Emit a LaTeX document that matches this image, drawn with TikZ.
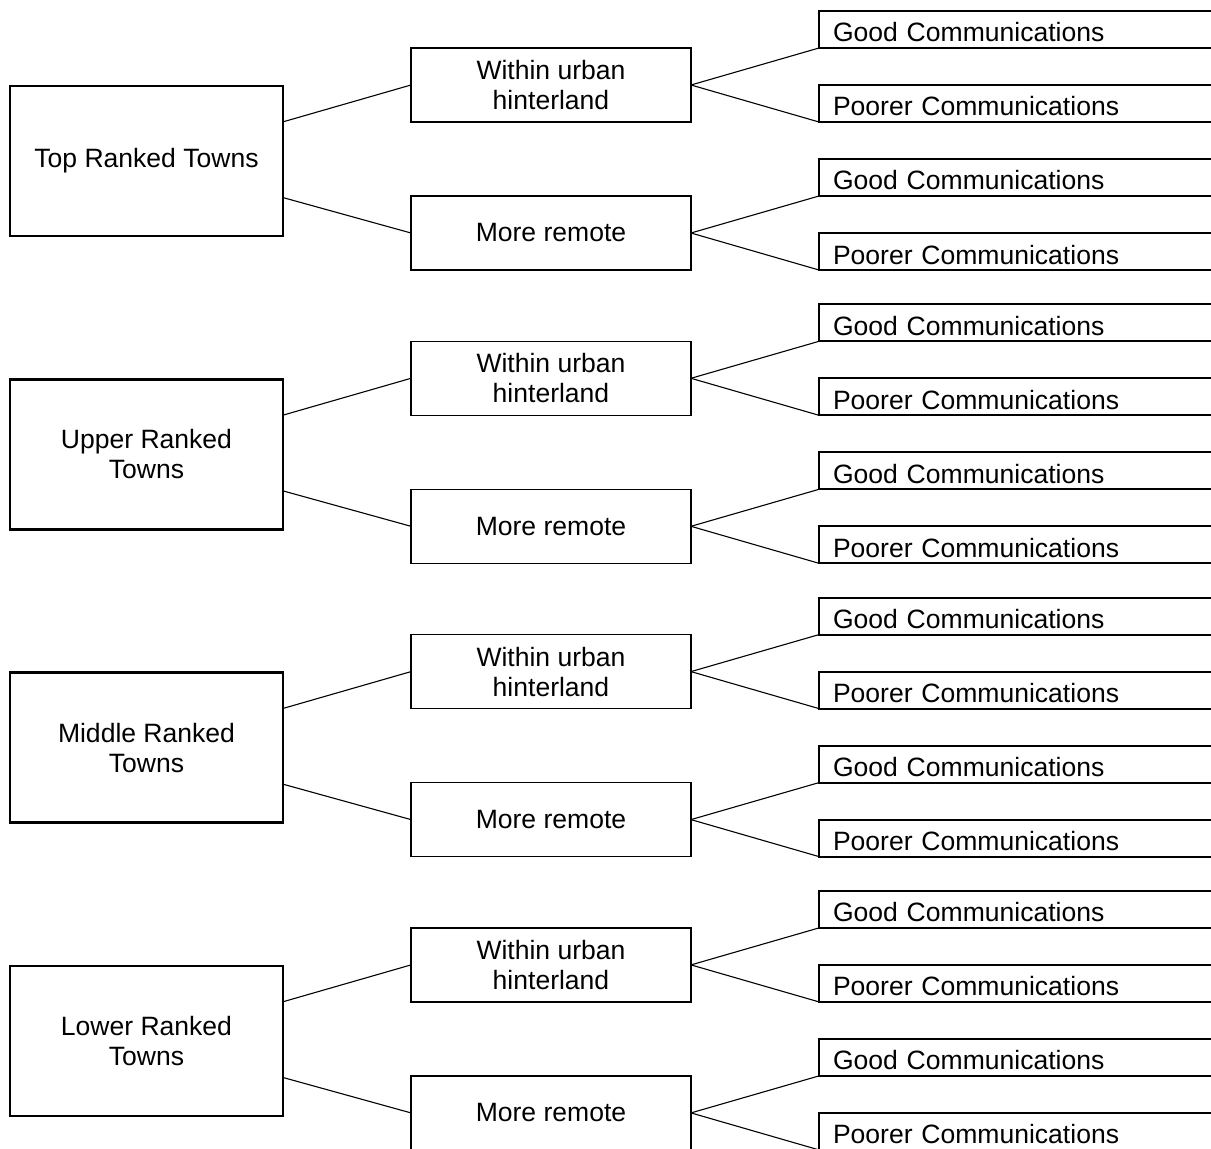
\documentclass[tikz,border=0pt]{standalone}
\usepackage{fontspec}
\setmainfont{Liberation Sans}
\usetikzlibrary{positioning}
\def \px {0.75pt}

\tikzset{
  townbox/.style={draw,line width=2.6*\px,minimum width=273*\px,minimum height=150*\px,align=center},
  placebox/.style={draw,line width=1.6*\px,minimum width=280*\px,minimum height=74*\px,align=center},
  commbox/.style={draw,line width=1.8*\px,minimum height=37*\px,inner xsep=14*\px,
    text width=392*\px,align=left,text height=25*\px,text depth=0pt},
  link/.style={line width=1.1*\px}
}

\begin{document}
\begin{tikzpicture}[x=\px,y=-\px,node distance=128*\px,outer sep=0pt,
    font=\fontsize{19.9pt}{22.5pt}\selectfont]
  \useasboundingbox (0,0) rectangle (1211,1149);
  \clip (0,0) rectangle (1211,1149);
  \foreach \lbl/\c [count=\i] in {Top Ranked Towns/161,Upper Ranked\\Towns/454.3,
      Middle Ranked\\Towns/747.6,Lower Ranked\\Towns/1040.9}{
    \node[townbox] (L\i) at (146.5,\c) {\lbl};
    \node[placebox,right=of L\i,yshift=76*\px] (W\i) {Within urban\\hinterland};
    \node[placebox,right=of L\i,yshift=-72*\px] (R\i) {More remote};
    % communication boxes run off the right edge
    \node[commbox,right=of W\i.north east,anchor=south west] (WG\i) {Good Communications};
    \node[commbox,right=of W\i.south east,anchor=south west] (WP\i) {Poorer Communications};
    \node[commbox,right=of R\i.north east,anchor=south west] (RG\i) {Good Communications};
    \node[commbox,right=of R\i.south east,anchor=south west] (RP\i) {Poorer Communications};
    \draw[link] (L\i.16) -- (W\i.west);
    \draw[link] (L\i.-15) -- (R\i.west);
    \draw[link] (W\i.east) -- (WG\i.south west);
    \draw[link] (W\i.east) -- (WP\i.south west);
    \draw[link] (R\i.east) -- (RG\i.south west);
    \draw[link] (R\i.east) -- (RP\i.south west);
  }
\end{tikzpicture}
\end{document}
